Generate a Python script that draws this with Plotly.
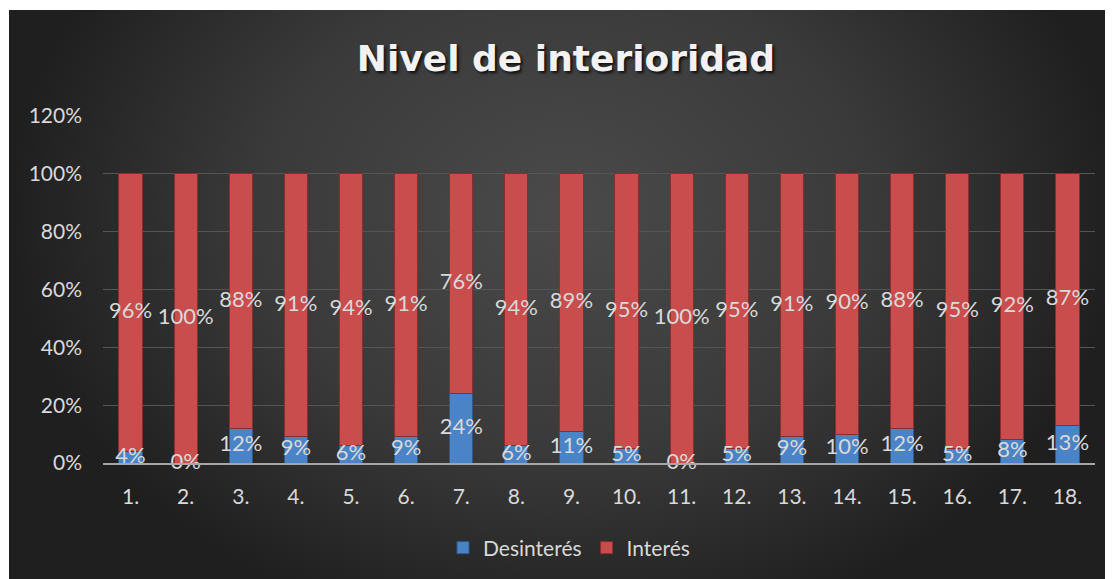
import plotly.graph_objects as go

categories = ["1.", "2.", "3.", "4.", "5.", "6.", "7.", "8.", "9.",
              "10.", "11.", "12.", "13.", "14.", "15.", "16.", "17.", "18."]
desinteres = [4, 0, 12, 9, 6, 9, 24, 6, 11, 5, 0, 5, 9, 10, 12, 5, 8, 13]
interes = [96, 100, 88, 91, 94, 91, 76, 94, 89, 95, 100, 95, 91, 90, 88, 95, 92, 87]
y_ticks = [0, 20, 40, 60, 80, 100, 120]

W, H = 1113, 579
OFF = 8  # page offset of the plot div
LABEL = "#d9d9d9"
FONT = "Lato, 'Open Sans', sans-serif"

des_frac = [v / 100 for v in desinteres]
int_frac = [v / 100 for v in interes]


def px_x(x):
    return (x - OFF) / W


def px_y(y):
    return 1 - (y - OFF) / H


fig = go.Figure()

# dark radial background behind the chart box
fig.add_trace(go.Scatter(
    x=[0, 1, 1, 0, 0], y=[-0.1, -0.1, 1.4, 1.4, -0.1],
    xaxis="x", yaxis="y", mode="lines", fill="toself",
    line=dict(width=0, color="rgba(0,0,0,0)"),
    fillgradient=dict(type="radial",
                      colorscale=[[0, "#4a4a4a"], [0.55, "#3a3a3a"], [1, "#1f1f1f"]]),
    hoverinfo="skip", showlegend=False,
))

fig.add_trace(go.Bar(
    x=categories, y=des_frac, name="Desinterés",
    xaxis="x2", yaxis="y2",
    marker=dict(color="#4a84c6", line=dict(color="#2c5a8c", width=1)),
))
fig.add_trace(go.Bar(
    x=categories, y=int_frac, name="Interés",
    xaxis="x2", yaxis="y2",
    marker=dict(color="#c94d4c", line=dict(color="#8a2e2d", width=1)),
))

# data labels centred in each segment
fig.add_trace(go.Scatter(
    x=categories, y=[d / 2 for d in des_frac],
    text=[f"{v}%" for v in desinteres], mode="text",
    xaxis="x2", yaxis="y2", cliponaxis=False,
    textfont=dict(family=FONT, size=22, color=LABEL),
    hoverinfo="skip", showlegend=False,
))
fig.add_trace(go.Scatter(
    x=categories, y=[d + i / 2 for d, i in zip(des_frac, int_frac)],
    text=[f"{v}%" for v in interes], mode="text",
    xaxis="x2", yaxis="y2", cliponaxis=False,
    textfont=dict(family=FONT, size=22, color=LABEL),
    hoverinfo="skip", showlegend=False,
))

fig.update_layout(
    template="none",
    width=W, height=H,
    margin=dict(l=0, r=0, t=0, b=0, autoexpand=False),
    paper_bgcolor="white",
    plot_bgcolor="rgba(0,0,0,0)",
    barmode="stack",
    bargap=0.58,
    title=dict(
        text="<b>Nivel de interioridad</b>",
        x=px_x(566), xref="container", xanchor="center",
        y=px_y(58), yref="container", yanchor="middle",
        font=dict(family="DejaVu Sans", size=36, color="#f2f2f2",
                  shadow="2px 2px 3px rgba(0,0,0,0.8)"),
    ),
    xaxis=dict(domain=[px_x(9), 1], range=[0, 1], visible=False,
               fixedrange=True, automargin=False),
    yaxis=dict(domain=[0, px_y(10)], range=[0, 1], visible=False,
               fixedrange=True, automargin=False),
    xaxis2=dict(
        domain=[px_x(103), px_x(1095)], anchor="y2", automargin=False,
        type="category", range=[-0.5, len(categories) - 0.5],
        showline=True, linecolor="#a6a6a6", linewidth=2,
        showgrid=False, ticks="",
        tickfont=dict(family=FONT, size=21, color=LABEL),
        ticklabelstandoff=14,
    ),
    yaxis2=dict(
        domain=[px_y(463), px_y(116)], anchor="x2", automargin=False,
        range=[0, 1.2], tickvals=[v / 100 for v in y_ticks],
        ticktext=[f"{v}%" for v in y_ticks],
        showgrid=True, gridcolor="#555555", gridwidth=1,
        zeroline=False, showline=False, ticks="",
        tickfont=dict(family=FONT, size=21, color=LABEL),
        ticklabelstandoff=20,
    ),
    legend=dict(
        orientation="h", x=px_x(569), xanchor="center",
        y=px_y(548), yanchor="middle", traceorder="normal",
        font=dict(family=FONT, size=21, color=LABEL),
        bgcolor="rgba(0,0,0,0)",
    ),
    showlegend=True,
)

fig.write_html("out.html")
